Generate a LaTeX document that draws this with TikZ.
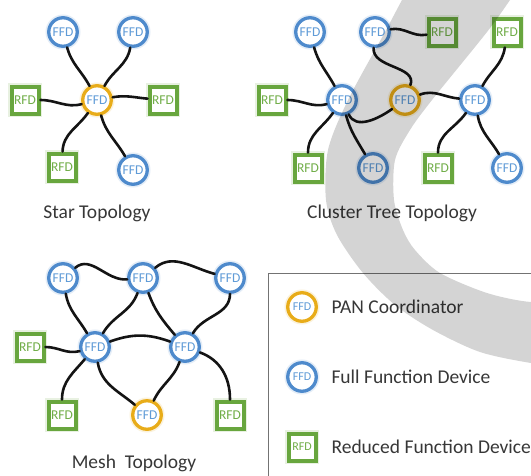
\documentclass[tikz,border=0pt]{standalone}
\usepackage{fontspec}
\setmainfont{Carlito}

\definecolor{ffdblue}{RGB}{78,138,204}
\definecolor{ffdtext}{RGB}{95,155,215}
\definecolor{pangold}{RGB}{232,172,25}
\definecolor{rfdgreen}{RGB}{104,166,62}
\definecolor{rfdtext}{RGB}{112,173,71}
\definecolor{captext}{RGB}{55,55,55}

\tikzset{
  devbase/.style={fill=white, inner sep=0pt, font=\fontsize{13.5}{13.5}\selectfont},
  ffd/.style={devbase, circle, draw=ffdblue, line width=3.3pt, minimum size=28.5pt,
    text=ffdtext, preaction={draw=ffdblue!30, line width=6.5pt, opacity=0.5}},
  pan/.style={devbase, circle, draw=pangold, line width=3.3pt, minimum size=28.5pt,
    text=ffdtext, preaction={draw=pangold!30, line width=6.5pt, opacity=0.5}},
  rfd/.style={devbase, rectangle, draw=rfdgreen, line width=4pt, minimum size=27pt,
    text=rfdtext, preaction={draw=rfdgreen!30, line width=7pt, opacity=0.5}},
  link/.style={draw=black!92, line width=2.6pt, line cap=round},
  caption/.style={text=captext, font=\fontsize{19.5}{19.5}\selectfont},
  legendtext/.style={text=captext, anchor=west, font=\fontsize{19.5}{19.5}\selectfont},
  legendicon/.style={font=\fontsize{12}{12}\selectfont},
}

\begin{document}
\begin{tikzpicture}[x=1pt,y=1pt]
\useasboundingbox (0,0) rectangle (531,-475);
\fill[white] (0,0) rectangle (531,-475);

% ---------- Star topology ----------
\node[pan] (sc)  at (97,-100) {FFD};
\node[ffd] (stl) at (63,-32)  {FFD};
\node[ffd] (str) at (133,-32) {FFD};
\node[rfd] (sl)  at (25,-100) {RFD};
\node[rfd] (sr)  at (163,-100) {RFD};
\node[rfd] (sbl) at (62,-167) {RFD};
\node[ffd] (sbr) at (133,-170) {FFD};
\draw[link] (stl) to[out=-75,in=118] (sc);
\draw[link] (str) to[out=-100,in=62] (sc);
\draw[link] (sl)  to[out=0,in=195] (sc);
\draw[link] (sr)  to[out=175,in=10] (sc);
\draw[link] (sbl) to[out=88,in=235] (sc);
\draw[link] (sbr) to[out=120,in=-75] (sc);
\node[caption] (starcap) at (97,-213) {Star Topology};

% ---------- Cluster tree topology ----------
\node[ffd] (ca) at (310,-32)  {FFD};
\node[ffd] (cb) at (375,-32)  {FFD};
\node[rfd] (cc) at (442,-32)  {RFD};
\node[rfd] (cd) at (507,-32)  {RFD};
\node[rfd] (ce) at (272,-100) {RFD};
\node[ffd] (cf) at (342,-100) {FFD};
\node[pan] (cg) at (405,-100) {FFD};
\node[ffd] (ch) at (475,-100) {FFD};
\node[rfd] (ci) at (308,-168) {RFD};
\node[ffd] (cj) at (373,-168) {FFD};
\node[rfd] (ck) at (438,-168) {RFD};
\node[ffd] (cl) at (507,-168) {FFD};
\draw[link] (ca) to[out=-75,in=118] (cf);
\draw[link] (ce) to[out=0,in=195] (cf);
\draw[link] (cf) to[out=235,in=90] (ci);
\draw[link] (cf) to[out=-75,in=120] (cj);
\draw[link] (cf) to[out=-65,in=215] (cg);
\draw[link] (cb) to[out=10,in=190] (cc);
\draw[link] (cb) to[out=-95,in=70] (cg);
\draw[link] (cg) to[out=20,in=175] (ch);
\draw[link] (ch) to[out=62,in=262] (cd);
\draw[link] (ch) to[out=235,in=90] (ck);
\draw[link] (ch) to[out=-80,in=120] (cl);
\node[caption] (treecap) at (392,-213) {Cluster Tree Topology};

% ---------- Mesh topology ----------
\node[ffd] (m1) at (63,-278)  {FFD};
\node[ffd] (m2) at (143,-278) {FFD};
\node[ffd] (m3) at (230,-278) {FFD};
\node[rfd] (m4) at (30,-347)  {RFD};
\node[ffd] (m5) at (95,-347)  {FFD};
\node[ffd] (m6) at (185,-347) {FFD};
\node[rfd] (m7) at (62,-415)  {RFD};
\node[pan] (m8) at (147,-415) {FFD};
\node[rfd] (m9) at (230,-415) {RFD};
\draw[link] (m1) to[out=40,in=185] (m2);
\draw[link] (m2) to[out=40,in=165] (m3);
\draw[link] (m1) to[out=-80,in=120] (m5);
\draw[link] (m2) to[out=250,in=60] (m5);
\draw[link] (m2) to[out=-70,in=130] (m6);
\draw[link] (m3) to[out=-90,in=60] (m6);
\draw[link] (m4) to[out=0,in=195] (m5);
\draw[link] (m5) to[out=20,in=160] (m6);
\draw[link] (m5) to[out=230,in=90] (m7);
\draw[link] (m5) to[out=-80,in=140] (m8);
\draw[link] (m6) to[out=250,in=65] (m8);
\draw[link] (m6) to[out=-20,in=90] (m9);
\node[caption] (meshcap) at (134,-463) {Mesh\ \ Topology};

% ---------- Legend ----------
\draw[black!55, line width=0.8pt] (540,-273) -- (268,-273) -- (268,-485);
\node[pan, legendicon] (lpan) at (302,-307) {FFD};
\node[ffd, legendicon] (lffd) at (302,-377) {FFD};
\node[rfd, legendicon] (lrfd) at (302,-447) {RFD};
\node[legendtext] (tpan) at (328,-307) {PAN Coordinator};
\node[legendtext] (tffd) at (328,-377) {Full Function Device};
\node[legendtext] (trfd) at (328,-447) {Reduced Function Device};

% ---------- Translucent swoosh over the page ----------
\begin{scope}
  \clip (0,0) rectangle (531,-475);
  \fill[black, opacity=0.17]
    plot[smooth] coordinates {(411,15) (402,0) (385,-32) (348,-100) (328,-150)
      (326,-200) (337,-235) (363,-273) (395,-305) (433,-330) (480,-352)
      (531,-363) (565,-366)}
    -- plot[smooth] coordinates {(565,-298) (531,-302) (487,-293) (440,-273)
      (415,-250) (403,-230) (394,-200) (395,-160) (410,-130) (432,-100)
      (487,-32) (510,0) (520,15)}
    -- cycle;
\end{scope}
\end{tikzpicture}
\end{document}
